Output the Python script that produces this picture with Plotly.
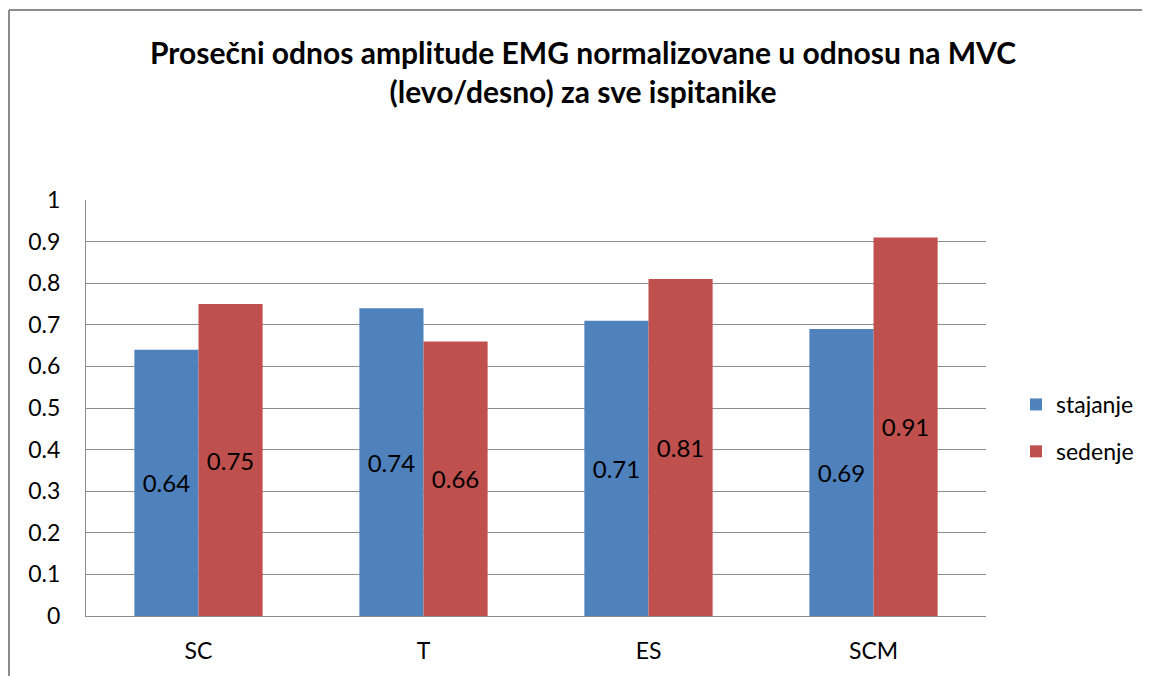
import plotly.graph_objects as go

categories = ["SC", "T", "ES", "SCM"]
stajanje = [0.64, 0.74, 0.71, 0.69]
sedenje = [0.75, 0.66, 0.81, 0.91]
y_ticks = [0, 0.1, 0.2, 0.3, 0.4, 0.5, 0.6, 0.7, 0.8, 0.9, 1]
y_tick_text = ["0", "0.1", "0.2", "0.3", "0.4", "0.5", "0.6", "0.7", "0.8", "0.9", "1"]

FONT = "Lato, 'Open Sans', sans-serif"
OFF = 8  # page body margin
W, H = 1150, 676
# plot area in screen pixels
PX0, PX1, PY0, PY1 = 86, 986, 200, 616
L, R = PX0 - OFF, W + OFF - PX1
T, B = PY0 - OFF, H + OFF - PY1
pw, ph = PX1 - PX0, PY1 - PY0


def px(x):
    return (x - PX0) / pw


def py(y):
    return (PY1 - y) / ph


fig = go.Figure()
for name, vals, color in [("stajanje", stajanje, "#4F81BD"), ("sedenje", sedenje, "#C0504D")]:
    fig.add_trace(go.Bar(
        x=categories, y=vals, name=name, legendgroup=name,
        marker=dict(color=color, line=dict(width=0)),
        text=[f"{v:.2f}" for v in vals], textposition="inside", insidetextanchor="middle",
        textangle=0, textfont=dict(size=24, color="#000000", family=FONT),
    ))

# outer chart border (left and top edges visible)
for x0, y0, x1, y1 in [(9, 10, 9, 700), (9, 10, 1200, 10)]:
    fig.add_shape(type="line", xref="paper", yref="paper",
                  x0=px(x0), x1=px(x1), y0=py(y0), y1=py(y1),
                  line=dict(color="#8c8c8c", width=2), layer="below")

fig.update_layout(
    width=W, height=H, margin=dict(l=L, r=R, t=T, b=B),
    paper_bgcolor="white", plot_bgcolor="white",
    barmode="group", bargap=0.43, bargroupgap=0,
    title=dict(text="<b>Prosečni odnos amplitude EMG normalizovane u odnosu na MVC<br>(levo/desno) za sve ispitanike</b>",
               x=(583 - OFF) / W, xanchor="center", y=1 - (64 - OFF) / H, yanchor="middle",
               font=dict(size=30, color="#000000", family=FONT)),
    font=dict(family=FONT, size=23, color="#000000"),
    legend=dict(x=px(1016), y=py(428), xanchor="left", yanchor="middle", font=dict(size=23),
                traceorder="grouped", tracegroupgap=14, itemwidth=30, bgcolor="rgba(0,0,0,0)"),
    yaxis=dict(range=[0, 1], tickvals=y_ticks, ticktext=y_tick_text, showgrid=True,
               gridcolor="#8c8c8c", gridwidth=1, showline=True, linecolor="#8c8c8c",
               ticks="", ticklabelstandoff=20, zeroline=False, tickfont=dict(size=23),
               automargin=False),
    xaxis=dict(showline=True, linecolor="#8c8c8c", ticks="", ticklabelstandoff=14,
               tickfont=dict(size=23), automargin=False),
)

fig.write_html("out.html")
